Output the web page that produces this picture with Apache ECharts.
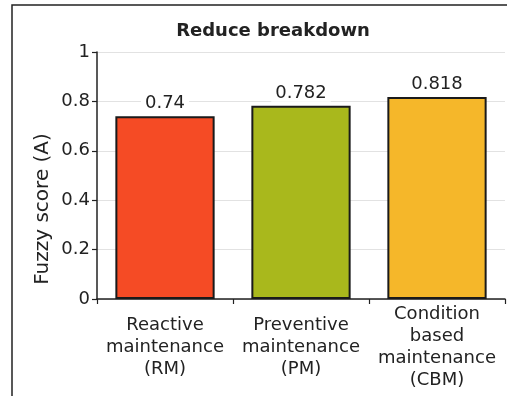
<!DOCTYPE html>
<html>
<head>
<meta charset="utf-8">
<script src="https://cdn.jsdelivr.net/npm/echarts@6/dist/echarts.min.js"></script>
<style>
  html, body { margin: 0; padding: 0; background: #fff; }
  #chart { width: 507px; height: 396px; }
</style>
</head>
<body>
<div id="chart"></div>
<script>
// Maintenance strategies and their fuzzy scores
const categories = [
  'Reactive\nmaintenance\n(RM)',
  'Preventive\nmaintenance\n(PM)',
  'Condition\nbased\nmaintenance\n(CBM)'
];
const scores = [0.74, 0.782, 0.818];
const barColors = ['#F54B25', '#A9B81C', '#F5B72A'];
const yTicks = { min: 0, max: 1, step: 0.2 };

const FONT = 'DejaVu Sans';
const TEXT = '#222';

const chart = echarts.init(document.getElementById('chart'), null, { renderer: 'canvas' });

chart.setOption({
  animation: false,
  backgroundColor: '#fff',
  title: {
    text: 'Reduce breakdown',
    left: 268,
    top: 17,
    textAlign: 'center',
    textStyle: { fontFamily: FONT, fontSize: 18, fontWeight: 'bold', color: TEXT }
  },
  graphic: [
    {
      type: 'rect',
      shape: { x: 12, y: 5, width: 700, height: 600 },
      style: { fill: 'none', stroke: '#222', lineWidth: 1.5 },
      silent: true,
      z: 0
    },
    {
      type: 'text',
      x: 43,
      y: 209,
      rotation: Math.PI / 2,
      style: {
        text: 'Fuzzy score (A)',
        fontFamily: FONT,
        fontSize: 20,
        fill: TEXT,
        align: 'center',
        verticalAlign: 'middle'
      }
    }
  ],
  grid: { left: 97, top: 52, right: 2, bottom: 97, containLabel: false },
  xAxis: {
    type: 'category',
    data: categories,
    boundaryGap: true,
    axisLine: { show: true, lineStyle: { color: '#222', width: 1.5 } },
    axisTick: { show: true, length: 5, lineStyle: { color: '#222', width: 1.2 } },
    axisLabel: {
      interval: 0,
      fontFamily: FONT,
      fontSize: 18,
      lineHeight: 22,
      color: TEXT,
      verticalAlign: 'middle',
      margin: 48
    }
  },
  yAxis: {
    type: 'value',
    min: yTicks.min,
    max: yTicks.max,
    interval: yTicks.step,
    axisLine: { show: true, lineStyle: { color: '#222', width: 1.5 } },
    axisTick: { show: true, length: 5, lineStyle: { color: '#222', width: 1.2 } },
    splitLine: { show: true, lineStyle: { color: '#e2e2e2', width: 1 } },
    axisLabel: {
      fontFamily: FONT,
      fontSize: 18,
      color: TEXT,
      margin: 7,
      formatter: v => String(+v.toFixed(2))
    }
  },
  series: [{
    type: 'bar',
    barCategoryGap: '27%',
    data: scores.map((v, i) => ({
      value: v,
      itemStyle: { color: barColors[i], borderColor: '#1a1a1a', borderWidth: 2 }
    })),
    label: {
      show: true,
      position: 'top',
      distance: 4,
      fontFamily: FONT,
      fontSize: 18,
      color: TEXT,
      backgroundColor: '#fff',
      padding: [1, 4, 0, 4],
      formatter: p => String(p.value)
    }
  }]
});
</script>
</body>
</html>
